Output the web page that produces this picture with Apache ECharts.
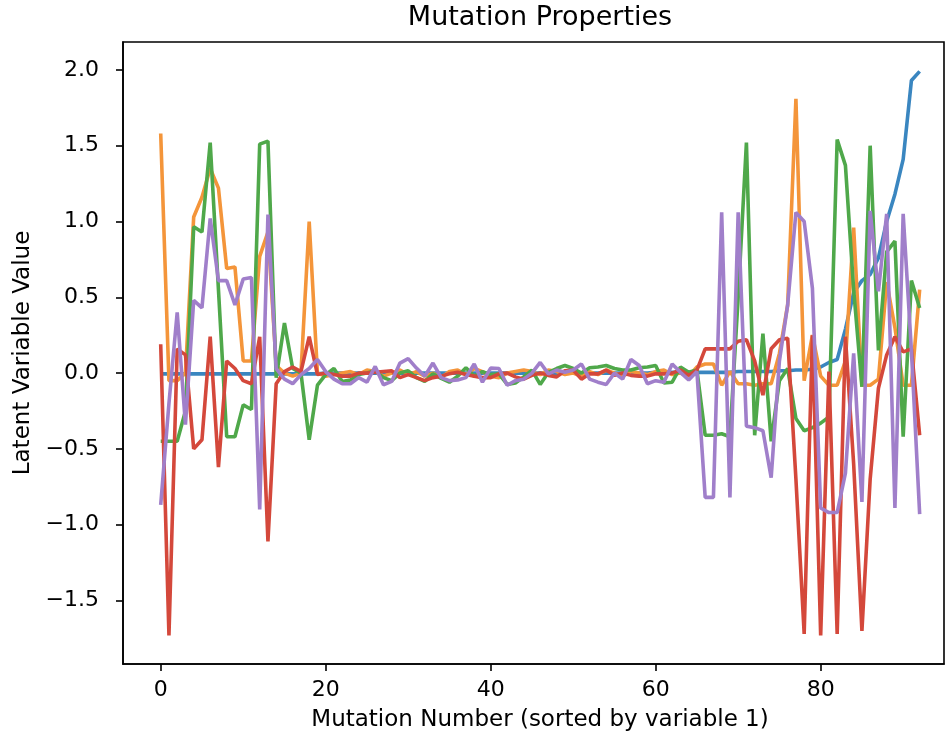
<!DOCTYPE html>
<html>
<head>
<meta charset="utf-8">
<script src="https://cdn.jsdelivr.net/npm/echarts@6/dist/echarts.min.js"></script>
<style>
  html, body { margin: 0; padding: 0; background: #fff; }
  #chart { width: 951px; height: 737px; }
</style>
</head>
<body>
<div id="chart"></div>
<script>
// tick labels
const xTicks = [0, 20, 40, 60, 80];
const yTicks = [-1.5, -1.0, -0.5, 0.0, 0.5, 1.0, 1.5, 2.0];

// latent variables, one value per mutation (index 0..92)
const var1 = [
  -0.005, -0.005, -0.005, -0.005, -0.005, -0.005, -0.005, -0.005, -0.005, -0.005,
  -0.005, -0.005, -0.005, -0.005, -0.005, -0.005, -0.005, -0.005, -0.005, -0.005,
  0, 0, 0, 0, 0, 0, 0, 0, 0, 0,
  0, 0, 0, 0, 0, 0, 0, 0, 0, 0,
  0, 0, 0, 0, 0, 0, 0, 0, 0, 0,
  0, 0, 0, 0, 0, 0, 0, 0, 0, 0,
  0.005, 0.005, 0.005, 0.005, 0.005, 0.005, 0.005, 0.005, 0.005, 0.005,
  0.01, 0.01, 0.01, 0.01, 0.01, 0.015, 0.015, 0.02, 0.02, 0.025,
  0.04, 0.07, 0.09, 0.29, 0.53, 0.61, 0.65, 0.76, 1.0, 1.18,
  1.41, 1.93, 1.99
];
const var2 = [
  1.58, -0.05, -0.05, 0.0, 1.03, 1.16, 1.35, 1.22, 0.69, 0.70,
  0.08, 0.08, 0.77, 0.93, 0.05, 0.0, -0.02, 0.0, 1.0, 0.0,
  -0.02, -0.01, 0.0, 0.01, -0.01, 0.02, 0.01, -0.02, 0.0, 0.02,
  -0.01, 0.01, -0.02, 0.0, -0.03, 0.01, 0.02, -0.01, 0.03, 0.01,
  -0.02, -0.03, 0.0, 0.01, 0.02, 0.01, -0.01, 0.02, 0.01, -0.01,
  0.0, -0.02, 0.01, -0.01, 0.02, 0.0, -0.02, 0.01, 0.0, -0.01,
  0.01, 0.02, -0.01, 0.0, -0.02, 0.04, 0.06, 0.06, -0.08, 0.01,
  -0.07, -0.07, -0.08, -0.07, -0.07, 0.13, 0.45, 1.81, -0.05, 0.25,
  -0.02, -0.08, -0.08, 0.08, 0.96, -0.08, -0.08, -0.04, 0.6, 0.3,
  -0.08, -0.08, 0.55
];
const var3 = [
  -0.45, -0.45, -0.45, -0.25, 0.965, 0.93, 1.52, 0.55, -0.42, -0.42,
  -0.21, -0.24, 1.51, 1.53, -0.03, 0.33, 0.03, 0.0, -0.44, -0.08,
  -0.01, 0.03, -0.055, -0.045, -0.01, 0.0, 0.015, -0.03, -0.05, 0.0,
  0.015, -0.03, -0.055, -0.005, -0.035, -0.06, -0.02, 0.035, -0.02, 0.01,
  -0.01, -0.005, -0.075, -0.065, -0.025, 0.02, -0.075, 0.005, 0.03, 0.05,
  0.03, 0.0, 0.035, 0.04, 0.05, 0.03, 0.02, 0.02, 0.035, 0.04,
  0.05, -0.065, -0.06, 0.04, 0.005, 0.02, -0.41, -0.41, -0.40, -0.42,
  0.5, 1.52, -0.41, 0.26, -0.45, -0.05, 0.03, -0.3, -0.38, -0.36,
  -0.33, -0.29, 1.54, 1.37, 0.55, -0.09, 1.5, 0.15, 0.8, 0.87,
  -0.42, 0.61, 0.43
];
const var4 = [
  0.19, -1.73, 0.16, 0.12, -0.50, -0.44, 0.24, -0.62, 0.08, 0.03,
  -0.05, -0.07, 0.24, -1.11, -0.07, 0.01, 0.04, 0.01, 0.24, -0.01,
  0.0, -0.01, -0.02, -0.02, 0.0, 0.0, 0.005, 0.01, 0.015, -0.03,
  -0.01, -0.03, -0.05, -0.03, -0.02, -0.005, 0.005, -0.01, -0.02, -0.03,
  -0.03, -0.005, 0.0, -0.025, -0.04, -0.015, 0.0, -0.015, -0.025, 0.015,
  0.02, -0.04, -0.005, -0.005, 0.02, -0.015, 0.0, -0.015, -0.02, -0.02,
  -0.005, -0.005, 0.0, 0.02, -0.015, 0.02, 0.16, 0.16, 0.16, 0.16,
  0.21, 0.22, 0.08, -0.145, 0.16, 0.22, 0.23, -0.7, -1.72, 0.25,
  -1.73, 0.01, -1.72, 0.24, -0.6, -1.7, -0.7, -0.1, 0.12, 0.24,
  0.14, 0.16, -0.41
];
const var5 = [
  -0.87, -0.2, 0.40, -0.34, 0.48, 0.43, 1.02, 0.61, 0.61, 0.45,
  0.62, 0.63, -0.9, 1.045, 0.03, -0.04, -0.07, -0.01, 0.03, 0.09,
  0.01, -0.04, -0.07, -0.07, -0.03, -0.06, 0.044, -0.077, -0.055, 0.066,
  0.095, 0.033, -0.02, 0.066, -0.03, -0.05, -0.045, -0.03, 0.06, -0.06,
  0.033, 0.03, -0.08, -0.05, -0.04, 0.0, 0.07, -0.005, 0.02, 0.005,
  0.02, 0.06, -0.04, -0.06, -0.075, 0.0, -0.04, 0.09, 0.05, -0.07,
  -0.05, -0.06, 0.06, 0.005, -0.045, 0.01, -0.82, -0.82, 1.06, -0.82,
  1.06, -0.35, -0.36, -0.38, -0.69, 0.08, 0.45, 1.06, 1.0, 0.56,
  -0.89, -0.92, -0.92, -0.66, 0.13, -0.85, 1.07, 0.54, 1.05, -0.89,
  1.05, 0.15, -0.93
];

// 颜色 (matplotlib 默认色，画面里略偏浅)
const colors = ['#3a86c0', '#f4953a', '#4fa84a', '#d4483b', '#a07fca'];
const font = 'DejaVu Sans';

const chart = echarts.init(document.getElementById('chart'), null, { renderer: 'canvas' });

// 把数组变成 [序号, 值]
function toPoints(arr) {
  return arr.map((v, i) => [i, v]);
}

const option = {
  animation: false,
  backgroundColor: '#fff',
  graphic: [
    {
      type: 'text',
      x: 540,
      y: 18,
      style: {
        text: 'Mutation Properties',
        fontFamily: font,
        fontSize: 27,
        fill: '#000',
        align: 'center',
        verticalAlign: 'middle'
      }
    }
  ],
  grid: {
    left: 123,
    right: 7,
    top: 42,
    bottom: 73,
    show: true,
    borderColor: '#000',
    borderWidth: 1.6,
    backgroundColor: 'transparent',
    outerBoundsMode: 'none'
  },
  xAxis: {
    type: 'value',
    min: -4.57,
    max: 94.95,
    name: 'Mutation Number (sorted by variable 1)',
    nameLocation: 'middle',
    nameGap: 45,
    nameTextStyle: { fontFamily: font, fontSize: 23, color: '#000', padding: [0, 0, 0, 13] },
    axisLine: { show: true, onZero: false, lineStyle: { color: '#000', width: 1.6 } },
    axisTick: { show: true, length: 7, lineStyle: { color: '#000', width: 1.6 }, customValues: xTicks },
    axisLabel: { fontFamily: font, fontSize: 22, color: '#000', margin: 15, customValues: xTicks },
    splitLine: { show: false }
  },
  yAxis: {
    type: 'value',
    min: -1.919,
    max: 2.184,
    name: 'Latent Variable Value',
    nameLocation: 'middle',
    nameGap: 83,
    nameTextStyle: { fontFamily: font, fontSize: 23, color: '#000' },
    axisLine: { show: true, onZero: false, lineStyle: { color: '#000', width: 1.6 } },
    axisTick: { show: true, length: 7, lineStyle: { color: '#000', width: 1.6 }, customValues: yTicks },
    axisLabel: {
      fontFamily: font, fontSize: 22, color: '#000', margin: 24,
      customValues: yTicks,
      formatter: v => (v < 0 ? '\u2212' : '') + Math.abs(v).toFixed(1)
    },
    splitLine: { show: false }
  },
  series: [var1, var2, var3, var4, var5].map((arr, k) => ({
    type: 'line',
    data: toPoints(arr),
    showSymbol: false,
    symbol: 'none',
    lineStyle: { color: colors[k], width: 3.6 },
    itemStyle: { color: colors[k] },
    z: 2 + k
  }))
};

chart.setOption(option);
</script>
</body>
</html>
